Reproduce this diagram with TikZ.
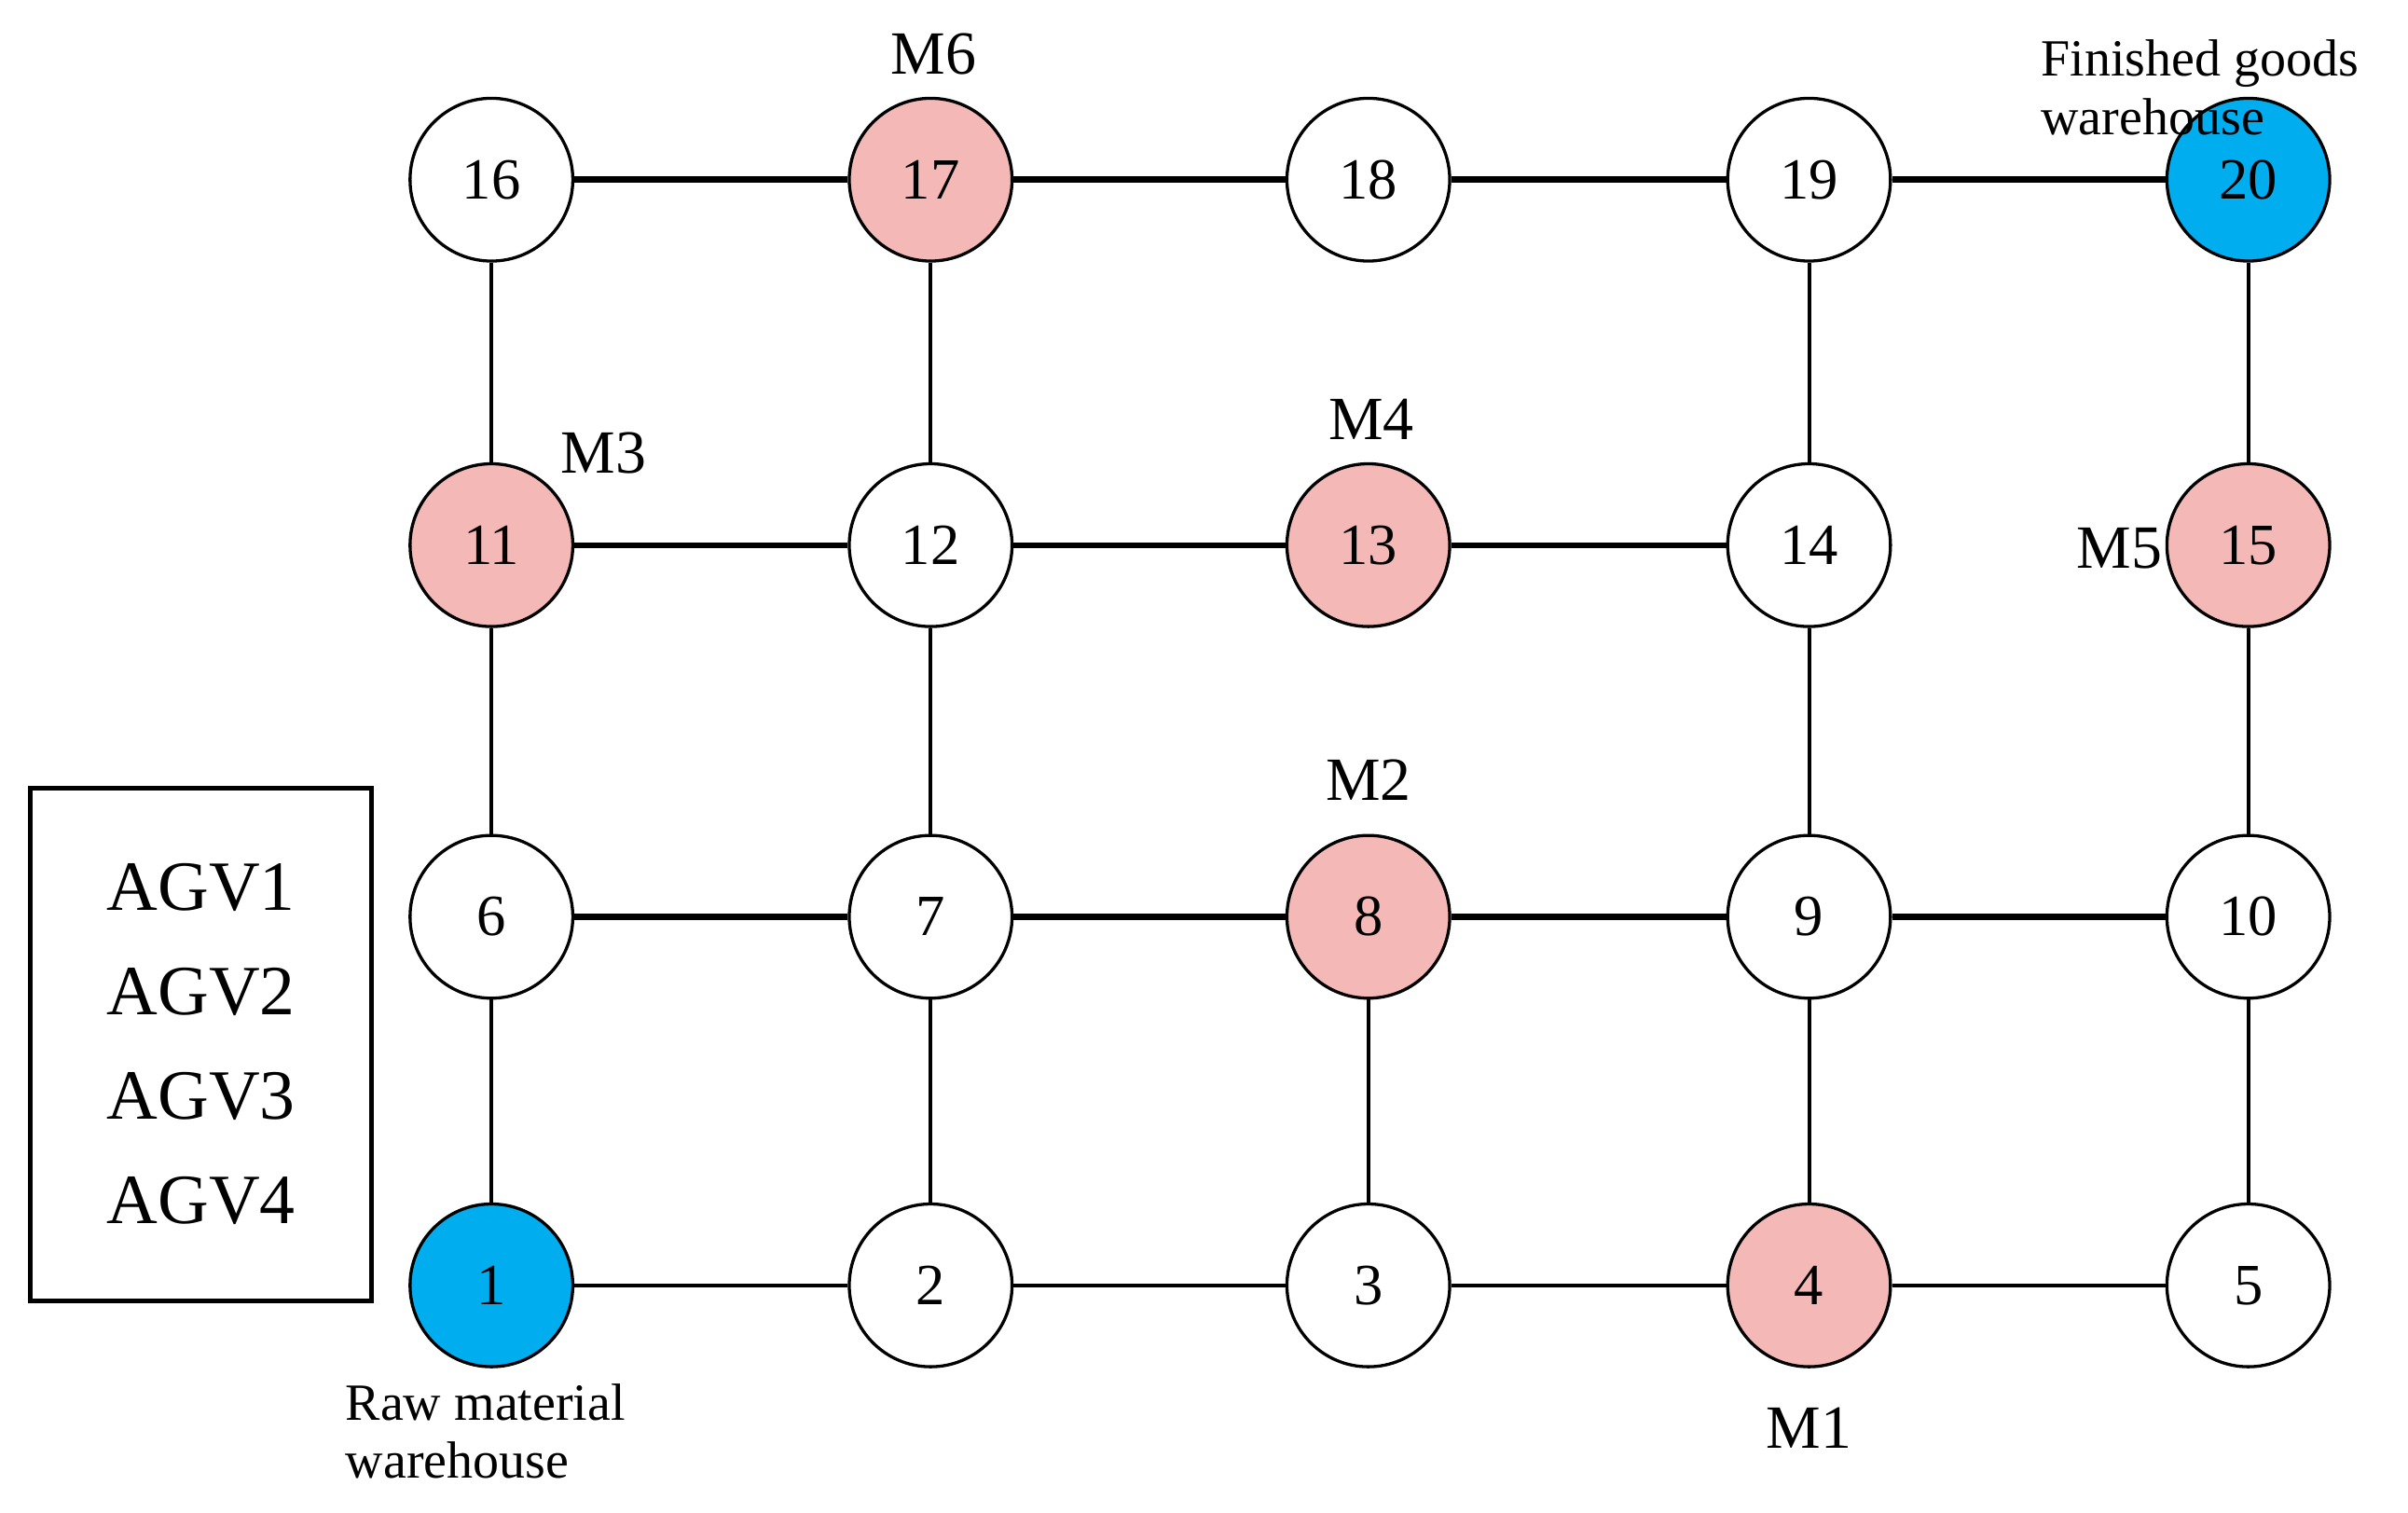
\documentclass[tikz,border=0pt]{standalone}
\usepackage{fontspec}
\setmainfont{Liberation Serif}
\definecolor{pk}{RGB}{244,185,182}
\definecolor{bl}{RGB}{0,174,239}
\begin{document}
\begin{tikzpicture}[x=0.5pt,y=-0.5pt,
  nd/.style={circle,draw,line width=1pt,minimum size=53pt,inner sep=0pt,font=\fontsize{19}{19}\selectfont},
  m/.style={nd,fill=pk},
  w/.style={nd,fill=bl},
  thk/.style={line width=2pt},
  thn/.style={line width=1.2pt},
  lb/.style={font=\fontsize{20}{20}\selectfont},
  wl/.style={font=\fontsize{17}{19}\selectfont,align=left,anchor=west}]
\useasboundingbox (0,0) rectangle (1568,985);
\foreach \n/\x/\y/\s in {1/320/837/w,2/606/837/nd,3/891/837/nd,4/1178/837/m,5/1464/837/nd,
 6/320/597/nd,7/606/597/nd,8/891/597/m,9/1178/597/nd,10/1464/597/nd,
 11/320/355/m,12/606/355/nd,13/891/355/m,14/1178/355/nd,15/1464/355/m,
 16/320/117/nd,17/606/117/m,18/891/117/nd,19/1178/117/nd,20/1464/117/w}
 \node[\s] (n\n) at (\x,\y) {\n};
\foreach \a/\b in {1/2,2/3,3/4,4/5} \draw[thn] (n\a)--(n\b);
\foreach \a/\b in {6/7,7/8,8/9,9/10,11/12,12/13,13/14,16/17,17/18,18/19,19/20} \draw[thk] (n\a)--(n\b);
\foreach \a/\b in {1/6,6/11,11/16,2/7,7/12,12/17,3/8,4/9,9/14,14/19,5/10,10/15,15/20} \draw[thn] (n\a)--(n\b);
\node[lb] (m6) at (608,35) {M6};
\node[lb] (m3) at (393,295) {M3};
\node[lb] (m4) at (893,273) {M4};
\node[lb] (m2) at (891,508) {M2};
\node[lb] (m5) at (1380,357) {M5};
\node[lb] (m1) at (1178,930) {M1};
\node[wl] (fg) at (1322,57) {Finished goods\\warehouse};
\node[wl] (rm) at (218,932) {Raw material\\warehouse};
\node[draw,line width=1.5pt,minimum width=111pt,minimum height=167pt,inner sep=0pt,
 align=center,font=\fontsize{23}{34}\selectfont] (agv) at (131,680) {AGV1\\AGV2\\AGV3\\AGV4};
\end{tikzpicture}
\end{document}
